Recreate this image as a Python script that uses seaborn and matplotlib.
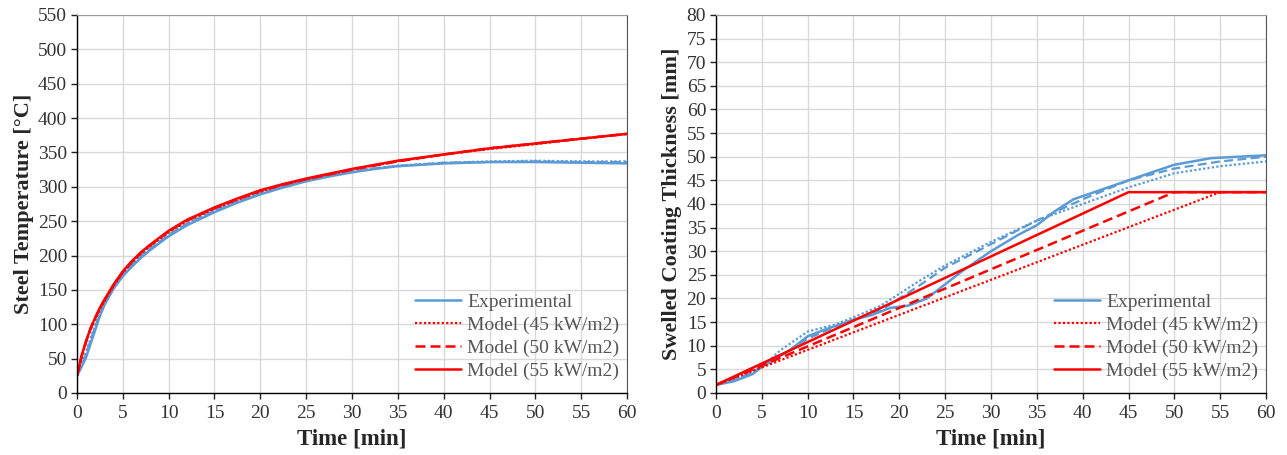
import numpy as np
import pandas as pd
import seaborn as sns
import matplotlib.pyplot as plt

# Steel temperature (left panel)
t_temp = [0, 0.5, 1, 1.5, 2, 2.5, 3, 4, 5, 6, 7, 8, 10, 12, 15, 17.5, 20, 22.5, 25, 27.5, 30, 32.5, 35, 40, 45, 50, 55, 60]
exp_temp_a = [25, 38, 52, 72, 92, 112, 128, 152, 170, 184, 197, 208, 228, 244, 263, 277, 289, 299, 308, 315, 321, 326, 330, 334, 336, 336, 335, 334]
exp_temp_b = [25, 42, 60, 80, 100, 117, 132, 156, 173, 187, 200, 211, 231, 247, 266, 279, 291, 301, 309, 316, 322, 327, 331, 335, 337, 338, 337, 337]
exp_temp_c = [25, 40, 57, 77, 97, 114, 130, 154, 172, 186, 199, 210, 230, 246, 265, 278, 290, 300, 309, 316, 322, 327, 330, 335, 336, 337, 336, 336]
model_temp_45 = [25, 52, 74, 93, 108, 122, 134, 156, 175, 190, 203, 214, 234, 250, 268, 281, 293, 303, 311, 318, 325, 331, 337, 347, 355, 362, 370, 377]
model_temp_50 = [25, 53, 75, 94, 109, 123, 135, 157, 176, 191, 204, 215, 235, 251, 269, 282, 294, 303, 311, 318, 325, 331, 337, 347, 356, 363, 370, 377]
model_temp_55 = [25, 54, 76, 95, 110, 124, 136, 158, 177, 192, 205, 216, 236, 252, 270, 283, 295, 304, 312, 319, 326, 332, 338, 347, 356, 363, 370, 377]

# Swelled coating thickness (right panel)
t_exp_a = [0, 2, 4, 5, 8, 10, 12, 15, 17, 19, 21, 23, 25, 27, 30, 33, 35, 37, 39, 42, 45, 48, 50, 54, 60]
exp_thk_a = [1.7, 2.5, 4, 5.5, 9, 12, 13.5, 15.5, 16.5, 18, 18.5, 20, 23, 26, 30, 33.5, 35.5, 38.5, 41, 43, 45, 47, 48.3, 49.7, 50.3]
t_exp_b = [0, 3, 5, 8, 10, 13, 15, 18, 20, 22, 25, 30, 35, 40, 45, 50, 55, 60]
exp_thk_b = [1.7, 3.5, 5.5, 9, 11.5, 14, 15.5, 17.5, 20, 22.5, 26.5, 31.5, 36.5, 41, 45, 47.5, 49, 50]
t_exp_c = [0, 3, 5, 7, 10, 13, 15, 18, 20, 22, 25, 30, 35, 40, 45, 50, 55, 60]
exp_thk_c = [1.7, 3.5, 5.5, 9, 13, 14.5, 16, 18.5, 21, 23.5, 27, 32, 36.5, 40, 43.5, 46.5, 48, 49]
t_model_45 = [0, 55, 60]
thk_model_45 = [1.7, 42.5, 42.5]
t_model_50 = [0, 50, 60]
thk_model_50 = [1.7, 42.5, 42.5]
t_model_55 = [0, 45, 60]
thk_model_55 = [1.7, 42.5, 42.5]

blue = "#5B9BD5"
red = "#FF0000"
labels = ["Experimental", "Model (45 kW/m2)", "Model (50 kW/m2)", "Model (55 kW/m2)"]

sns.set_style("whitegrid")
plt.rcParams['font.family'] = ['Liberation Serif', 'DejaVu Serif']

fig = plt.figure(figsize=(12.87, 4.55), dpi=100)
ax1 = fig.add_axes([0.0598, 0.1363, 0.4274, 0.8308])
ax2 = fig.add_axes([0.5563, 0.1363, 0.4274, 0.8308])


def style_axes(ax, ymax, ystep, ylabel):
    ax.set_xlim(0, 60)
    ax.set_ylim(0, ymax)
    ax.set_xticks(np.arange(0, 61, 5))
    ax.set_yticks(np.arange(0, ymax + 1, ystep))
    ax.grid(True, color="#D9D9D9", linewidth=1)
    ax.tick_params(axis="both", direction="out", length=4, width=1, colors="#222222",
                   labelsize=14, labelcolor="#333333", bottom=True, left=True, pad=3)
    ax.tick_params(axis="x", pad=5)
    for side in ["left", "bottom"]:
        ax.spines[side].set_color("#000000")
        ax.spines[side].set_linewidth(1)
    ax.spines["top"].set_color("#999999")
    ax.spines["right"].set_color("#555555")
    ax.set_xlabel("Time [min]", fontsize=16.5, fontweight="bold", labelpad=4)
    ax.set_ylabel(ylabel, fontsize=16, fontweight="bold", labelpad=3)
    leg = ax.legend(loc="lower right", bbox_to_anchor=(1.0, 0.015), frameon=False, borderaxespad=0,
                    fontsize=14, handlelength=2.4, handletextpad=0.3, labelspacing=0.27)
    for txt in leg.get_texts():
        txt.set_color("#555555")


# left panel
sns.lineplot(x=t_temp, y=exp_temp_b, ax=ax1, color=blue, linestyle=(0, (1, 1)), linewidth=1.6, label="_nolegend_")
sns.lineplot(x=t_temp, y=exp_temp_c, ax=ax1, color=blue, linestyle=(0, (4, 2)), linewidth=1.6, label="_nolegend_")
sns.lineplot(x=t_temp, y=exp_temp_a, ax=ax1, color=blue, linestyle="-", linewidth=1.8, label=labels[0])
sns.lineplot(x=t_temp, y=model_temp_45, ax=ax1, color=red, linestyle=(0, (1, 1)), linewidth=1.6, label=labels[1])
sns.lineplot(x=t_temp, y=model_temp_50, ax=ax1, color=red, linestyle=(0, (4, 2)), linewidth=1.8, label=labels[2])
sns.lineplot(x=t_temp, y=model_temp_55, ax=ax1, color=red, linestyle="-", linewidth=1.8, label=labels[3])
style_axes(ax1, 550, 50, "Steel Temperature [°C]")

# right panel
sns.lineplot(x=t_exp_c, y=exp_thk_c, ax=ax2, color=blue, linestyle=(0, (1, 1)), linewidth=1.6, label="_nolegend_")
sns.lineplot(x=t_exp_b, y=exp_thk_b, ax=ax2, color=blue, linestyle=(0, (4, 2)), linewidth=1.6, label="_nolegend_")
sns.lineplot(x=t_exp_a, y=exp_thk_a, ax=ax2, color=blue, linestyle="-", linewidth=1.8, label=labels[0])
sns.lineplot(x=t_model_45, y=thk_model_45, ax=ax2, color=red, linestyle=(0, (1, 1)), linewidth=1.6, label=labels[1])
sns.lineplot(x=t_model_50, y=thk_model_50, ax=ax2, color=red, linestyle=(0, (4, 2)), linewidth=1.8, label=labels[2])
sns.lineplot(x=t_model_55, y=thk_model_55, ax=ax2, color=red, linestyle="-", linewidth=1.8, label=labels[3])
style_axes(ax2, 80, 5, "Swelled Coating Thickness [mm]")

fig.savefig("out.png", dpi=100)
